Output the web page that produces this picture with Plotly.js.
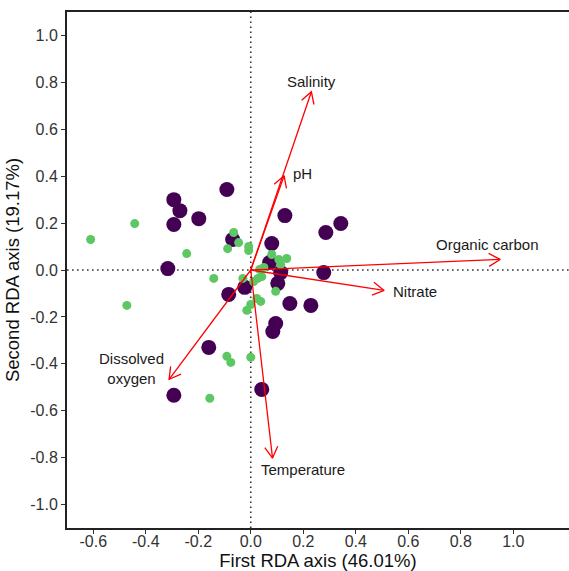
<!DOCTYPE html>
<html>
<head>
<meta charset="utf-8">
<script src="https://cdn.plot.ly/plotly-3.0.1.min.js"></script>
<style>html,body{margin:0;padding:0;background:#fff;}#chart{width:569px;height:571px;}</style>
</head>
<body>
<div id="chart"></div>
<script>
// Site scores, group 1 (large dark purple points)
const purpleX = [-0.091,-0.293,-0.270,-0.293,-0.198,-0.316,-0.069,0.130,0.343,0.286,0.278,0.080,0.072,0.114,0.103,-0.023,-0.084,0.149,0.229,0.095,0.084,-0.160,-0.293,0.042];
const purpleY = [0.343,0.300,0.253,0.194,0.219,0.006,0.130,0.232,0.198,0.160,-0.011,0.113,0.032,-0.011,-0.057,-0.074,-0.104,-0.143,-0.151,-0.228,-0.262,-0.330,-0.534,-0.509];
// Site scores, group 2 (small green points)
const greenX = [-0.610,-0.442,-0.244,-0.472,-0.065,-0.046,-0.088,-0.008,-0.008,0.080,0.107,0.137,0.114,0.050,0.034,-0.141,-0.030,0.011,0.027,0.042,0.095,0.023,0.038,0.000,-0.015,-0.091,-0.076,0.000,-0.156];
const greenY = [0.130,0.198,0.070,-0.151,0.160,0.117,0.091,0.100,0.083,0.066,0.045,0.049,0.023,0.011,0.002,-0.036,-0.036,-0.049,-0.036,-0.028,-0.091,-0.121,-0.134,-0.147,-0.172,-0.368,-0.394,-0.372,-0.547];
// Environmental vectors (biplot arrows)
const envNames = ["Salinity","pH","Organic carbon","Nitrate","Temperature","Dissolved<br>oxygen"];
const envX = [0.231,0.127,0.950,0.508,0.083,-0.311];
const envY = [0.760,0.402,0.045,-0.087,-0.802,-0.466];
// Tick values
const tickX = [-0.6,-0.4,-0.2,0.0,0.2,0.4,0.6,0.8,1.0];
const tickY = [-1.0,-0.8,-0.6,-0.4,-0.2,0.0,0.2,0.4,0.6,0.8,1.0];

const W = 569, H = 571;
const M = {l:67, r:0, t:12, b:43};
const xr = [-0.7, -0.7 + (W - M.l - M.r) / 262.5];
const yr = [-1.1, 1.1];
const sx = (W - M.l - M.r) / (xr[1] - xr[0]);
const sy = (H - M.t - M.b) / (yr[1] - yr[0]);

// arrow shafts and open arrowheads (computed in pixel space from the data vectors)
const shaftX = [], shaftY = [];
const headX = [], headY = [];
const headLen = 13, headAng = 30 * Math.PI / 180;
for (let i = 0; i < envX.length; i++) {
  shaftX.push(0, envX[i], null);
  shaftY.push(0, envY[i], null);
  const px = envX[i] * sx, py = envY[i] * sy;
  const a = Math.atan2(py, px) + Math.PI;
  const a1 = a + headAng, a2 = a - headAng;
  headX.push(envX[i] + headLen * Math.cos(a1) / sx, envX[i], envX[i] + headLen * Math.cos(a2) / sx, null);
  headY.push(envY[i] + headLen * Math.sin(a1) / sy, envY[i], envY[i] + headLen * Math.sin(a2) / sy, null);
}

const labelStyle = [
  {xanchor:'center', xshift:0, yshift:10},
  {xanchor:'left', xshift:7, yshift:2},
  {xanchor:'center', xshift:-13, yshift:15},
  {xanchor:'left', xshift:7, yshift:-1},
  {xanchor:'center', xshift:30, yshift:-11},
  {xanchor:'center', xshift:-38, yshift:11}
];
const annotations = envNames.map((n, i) => ({
  x: envX[i], y: envY[i], xref:'x', yref:'y', text:n, showarrow:false,
  xanchor: labelStyle[i].xanchor, yanchor:'middle', align:'center',
  xshift: labelStyle[i].xshift, yshift: labelStyle[i].yshift,
  font:{family:'Liberation Sans, Arial, sans-serif', size:15, color:'#1a1a1a'}
}));

const traces = [
  {x: purpleX, y: purpleY, mode:'markers', type:'scatter', hoverinfo:'skip',
   marker:{size:15, color:'#440154', line:{width:0}}},
  {x: greenX, y: greenY, mode:'markers', type:'scatter', hoverinfo:'skip',
   marker:{size:9, color:'#5DC863', line:{width:0}}},
  {x: shaftX, y: shaftY, mode:'lines', type:'scatter', hoverinfo:'skip',
   line:{color:'#FF0000', width:1.3}},
  {x: headX, y: headY, mode:'lines', type:'scatter', hoverinfo:'skip',
   line:{color:'#FF0000', width:1.3}}
];

const font = {family:'Liberation Sans, Arial, sans-serif', color:'#222'};
const layout = {
  width: W, height: H,
  margin: M,
  showlegend: false,
  paper_bgcolor:'#fff', plot_bgcolor:'#fff',
  font: font,
  xaxis: {
    range: xr, tickvals: tickX, ticktext: tickX.map(v => v.toFixed(1)),
    showgrid:false, zeroline:false, showline:true, mirror:true, linecolor:'#222', linewidth:2,
    ticks:'outside', ticklen:4, tickwidth:1, tickcolor:'#333',
    ticklabelstandoff:-6,
    tickfont:{family:font.family, size:16, color:'#333'},
    title:{text:'First RDA axis (46.01%)', font:{family:font.family, size:18.5, color:'#111'}},
    automargin:false
  },
  yaxis: {
    range: yr, tickvals: tickY, ticktext: tickY.map(v => v.toFixed(1)),
    showgrid:false, zeroline:false, showline:true, mirror:false, linecolor:'#222', linewidth:2,
    ticks:'outside', ticklen:4, tickwidth:1, tickcolor:'#333',
    tickfont:{family:font.family, size:16, color:'#333'},
    title:{text:'Second RDA axis (19.17%)', font:{family:font.family, size:18.5, color:'#111'}},
    automargin:false
  },
  shapes: [
    {type:'line', xref:'x', yref:'paper', x0:0, x1:0, y0:0, y1:1, layer:'below', line:{color:'#333', width:1.6, dash:'1.6px,3.4px'}},
    {type:'line', xref:'paper', yref:'y', x0:0, x1:1, y0:0, y1:0, layer:'below', line:{color:'#333', width:1.6, dash:'1.6px,3.4px'}}
  ],
  annotations: annotations
};

Plotly.newPlot('chart', traces, layout, {displayModeBar:false, staticPlot:true});
</script>
</body>
</html>
